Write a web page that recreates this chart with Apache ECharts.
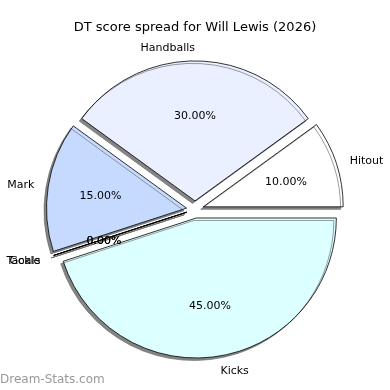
<!DOCTYPE html>
<html>
<head>
<meta charset="utf-8">
<script src="https://cdn.jsdelivr.net/npm/echarts@6/dist/echarts.min.js"></script>
<style>html,body{margin:0;padding:0;background:#fff}#c{width:390px;height:390px}</style>
</head>
<body>
<div id="c"></div>
<script>
const titleText = 'DT score spread for Will Lewis (2026)';
const categories = ['Hitout', 'Handballs', 'Mark', 'Tackle', 'Goals', 'Kicks'];
const values = [10, 30, 15, 0, 0, 45];
const sliceColors = ['#ffffff', '#eaf0ff', '#c6daff', '#dcffff', '#dcffff', '#dcffff'];
const watermark = 'Dream-Stats.com';

const FONT = 'DejaVu Sans';
const R = 140, CX = 195, CY = 209.5, EXPLODE = 8.6;

const total = values.reduce((a, b) => a + b, 0);
const mainData = categories.map((n, i) => ({
  name: n, value: values[i], selected: true,
  itemStyle: { color: sliceColors[i] }
}));
const pctData = categories.map((n, i) => ({ name: n, value: values[i], selected: true }));

const sectorStyle = {
  borderColor: '#000', borderWidth: 0.8,
  shadowColor: 'rgba(110,110,110,0.85)', shadowBlur: 0, shadowOffsetX: -2.5, shadowOffsetY: 2.5
};

const chart = echarts.init(document.getElementById('c'), null, { renderer: 'canvas' });
chart.setOption({
  animation: false,
  backgroundColor: '#fff',
  title: {
    text: titleText, left: 'center', top: 16,
    textStyle: { fontFamily: FONT, fontSize: 13, fontWeight: 'normal', color: '#000' }
  },
  graphic: [{
    type: 'text', left: 0, top: 374,
    style: { text: watermark, fontFamily: FONT, fontSize: 12, fill: '#999' }
  }],
  series: [
    {
      type: 'pie', center: [CX, CY], radius: [0, R],
      startAngle: 0, clockwise: false,
      selectedMode: 'multiple', selectedOffset: EXPLODE,
      avoidLabelOverlap: false, silent: true,
      data: mainData,
      itemStyle: sectorStyle,
      select: { itemStyle: sectorStyle, label: { show: true } },
      emphasis: { disabled: true },
      label: {
        show: true, position: 'outside', formatter: '{b}',
        fontFamily: FONT, fontSize: 11, color: '#000', distanceToLabelLine: 0
      },
      labelLine: { show: false, length: R * 0.1, length2: 0 },
      labelLayout: function (p) {
        if (p.dataIndex === 1) {
          return { align: 'right', dy: 1.5 };
        }
        return { dy: 1.5 };
      }
    },
    {
      type: 'pie', center: [CX, CY], radius: [0, R * 1.2],
      startAngle: 0, clockwise: false,
      selectedMode: 'multiple', selectedOffset: EXPLODE,
      avoidLabelOverlap: false, silent: true,
      data: pctData,
      itemStyle: { color: 'rgba(0,0,0,0)', borderWidth: 0 },
      select: { itemStyle: { color: 'rgba(0,0,0,0)', borderWidth: 0 } },
      emphasis: { disabled: true },
      label: {
        show: true, position: 'inside',
        formatter: p => (p.value / total * 100).toFixed(2) + '%',
        fontFamily: FONT, fontSize: 11, color: '#000'
      },
      labelLine: { show: false },
      labelLayout: function () { return { dy: 2 }; }
    }
  ]
});
</script>
</body>
</html>
